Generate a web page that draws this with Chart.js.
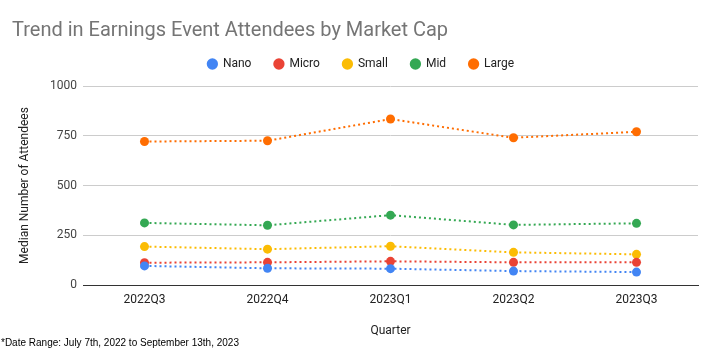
<!DOCTYPE html>
<html>
<head>
<meta charset="utf-8">
<script src="https://cdn.jsdelivr.net/npm/chart.js@4.4.0/dist/chart.umd.min.js"></script>
<style>
  html, body { margin: 0; padding: 0; background: #fff; }
  #wrap { position: relative; width: 716px; height: 355px; }
  #note { position: absolute; left: 1px; top: 337px; font-family: "Liberation Sans Narrow", "Liberation Sans", Arial, sans-serif; font-size: 10px; color: #000; }
</style>
</head>
<body>
<div id="wrap">
  <canvas id="c" width="716" height="355"></canvas>
  <div id="note">*Date Range: July 7th, 2022 to September 13th, 2023</div>
</div>
<script>
const categories = ["2022Q3", "2022Q4", "2023Q1", "2023Q2", "2023Q3"];
const nano  = [96, 84, 82, 70, 65];
const micro = [112, 114, 119, 114, 114];
const small = [193, 180, 195, 164, 154];
const mid   = [312, 300, 351, 302, 310];
const large = [721, 725, 834, 740, 770];
const yTicks = [0, 250, 500, 750, 1000];

const colors = { Nano: "#4285F4", Micro: "#EA4335", Small: "#FBBC04", Mid: "#34A853", Large: "#FF6D01" };

function ds(label, data) {
  return {
    label, data,
    borderColor: colors[label], backgroundColor: colors[label],
    pointBackgroundColor: colors[label], pointBorderColor: colors[label],
    borderWidth: 2, borderDash: [2, 3], pointRadius: 4.5, pointHoverRadius: 4.5, pointBorderWidth: 0,
    tension: 0, fill: false
  };
}

// Legend box: fixed height, items drawn slightly higher and to the right
const legendTweak = {
  id: "legendTweak",
  afterInit(chart) {
    const lg = chart.legend;
    if (!lg) return;
    const origFit = lg.fit;
    lg.fit = function () { origFit.call(this); this.height = 45; };
    const origDraw = lg.draw;
    lg.draw = function () {
      this.top -= 6; this.left += 6; this.right += 6;
      origDraw.call(this);
      this.top += 6; this.left -= 6; this.right -= 6;
    };
  }
};

new Chart(document.getElementById("c"), {
  type: "line",
  data: {
    labels: categories,
    datasets: [ds("Nano", nano), ds("Micro", micro), ds("Small", small), ds("Mid", mid), ds("Large", large)]
  },
  plugins: [legendTweak],
  options: {
    responsive: false,
    animation: false,
    layout: { padding: { left: 12, right: 18, top: 21, bottom: 17 } },
    plugins: {
      title: {
        display: true, text: "Trend in Earnings Event Attendees by Market Cap",
        align: "start", color: "#757575",
        font: { family: "Roboto, Arial, sans-serif", size: 20, weight: "normal", lineHeight: 1 },
        padding: { top: 0, bottom: 0 }
      },
      legend: {
        position: "top",
        labels: {
          usePointStyle: true, pointStyle: "circle", boxWidth: 9, boxHeight: 8,
          color: "#222", padding: 23,
          font: { family: "Roboto, Arial, sans-serif", size: 12 }
        }
      },
      tooltip: { enabled: false }
    },
    scales: {
      x: {
        offset: true,
        grid: { display: false, drawTicks: false },
        border: { color: "#333", width: 1 },
        ticks: { color: "#222", padding: 8, font: { family: "Roboto, Arial, sans-serif", size: 12 } },
        title: { display: true, text: "Quarter", color: "#222", padding: { top: 14, bottom: 0 }, font: { family: "Roboto, Arial, sans-serif", size: 12 } },
        afterFit: s => { s.height = 53; }
      },
      y: {
        min: 0, max: 1000,
        afterBuildTicks: s => { s.ticks = yTicks.map(v => ({ value: v })); },
        grid: { color: "#cccccc", drawTicks: false },
        border: { display: false },
        ticks: { color: "#444", padding: 6, callback: v => String(v), font: { family: "Roboto, Arial, sans-serif", size: 12 } },
        title: { display: true, text: "Median Number of Attendees", color: "#222", padding: { top: 6, bottom: 4 }, font: { family: "Roboto, Arial, sans-serif", size: 12 } },
        afterFit: s => { s.width = 71; }
      }
    }
  }
});
</script>
</body>
</html>
